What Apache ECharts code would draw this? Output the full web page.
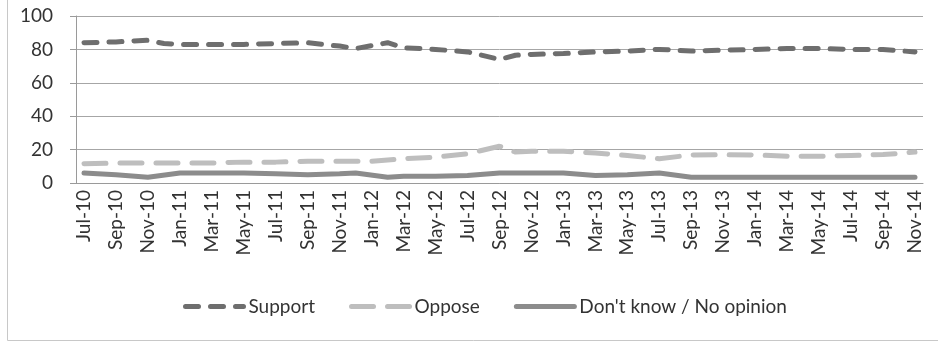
<!DOCTYPE html>
<html>
<head>
<meta charset="utf-8">
<script src="https://cdn.jsdelivr.net/npm/echarts@6/dist/echarts.min.js"></script>
<style>
  html, body { margin: 0; padding: 0; background: #fff; }
  #main { width: 938px; height: 342px; }
</style>
</head>
<body>
<div id="main"></div>
<script>
// monthly categories, Jul-10 .. Nov-14
var months = ['Jul-10','Aug-10','Sep-10','Oct-10','Nov-10','Dec-10',
  'Jan-11','Feb-11','Mar-11','Apr-11','May-11','Jun-11','Jul-11','Aug-11','Sep-11','Oct-11','Nov-11','Dec-11',
  'Jan-12','Feb-12','Mar-12','Apr-12','May-12','Jun-12','Jul-12','Aug-12','Sep-12','Oct-12','Nov-12','Dec-12',
  'Jan-13','Feb-13','Mar-13','Apr-13','May-13','Jun-13','Jul-13','Aug-13','Sep-13','Oct-13','Nov-13','Dec-13',
  'Jan-14','Feb-14','Mar-14','Apr-14','May-14','Jun-14','Jul-14','Aug-14','Sep-14','Oct-14','Nov-14'];

// poll results, null = no survey that month
var support = [84,null,84.5,null,85.5,83.5, 83,null,83,null,83,null,83.5,null,84,null,82,80.5,
  null,84,81,null,80,null,78.5,null,74,76.5,77,null, 77.5,null,78.5,null,79,null,80,null,79,null,79.5,null,
  80,null,80.5,null,80.5,null,80,null,80,null,78.5];
var oppose = [11.5,null,12,null,12,null,12,null,12,null,12.5,null,12.5,null,13,null,13,null,
  13,null,14.5,null,15.5,null,17.5,null,22,18.5,19,null, 19,null,18,null,16.5,null,14.5,null,16.8,null,17,null,
  16.8,null,16,null,16,null,16.5,null,17,null,18.5];
var dontKnow = [6,null,5,null,3.5,null,6,null,6,null,6,null,5.5,null,5,null,5.5,6,
  null,3.5,4,null,4,null,4.5,null,6,null,6,null, 6,null,4.5,null,5,null,6,null,3.5,null,3.5,null,
  3.5,null,3.5,null,3.5,null,3.5,null,3.5,null,3.5];

var seriesNames = ['Support', 'Oppose', "Don't know / No opinion"];

var font = 'Lato, "Open Sans", sans-serif';
var chart = echarts.init(document.getElementById('main'));

var option = {
  animation: false,
  textStyle: { fontFamily: font },
  graphic: [{
    type: 'rect',
    shape: { x: 7.5, y: -5, width: 1000, height: 345.5 },
    style: { fill: 'none', stroke: '#c8c8c8', lineWidth: 1 },
    silent: true
  }],
  grid: { left: 76, right: 15, top: 16, bottom: 159, containLabel: false },
  legend: {
    data: seriesNames,
    top: 292,
    left: 178,
    itemWidth: 58,
    itemHeight: 14,
    itemGap: 34,
    itemStyle: { opacity: 0 },
    lineStyle: { width: 5, cap: 'round' },
    textStyle: { fontSize: 19, color: '#333', fontFamily: font }
  },
  xAxis: {
    type: 'category',
    data: months,
    boundaryGap: true,
    axisLine: { lineStyle: { color: '#9a9a9a' } },
    axisTick: { interval: 1, length: 5, lineStyle: { color: '#9a9a9a' } },
    axisLabel: { interval: 1, rotate: 90, margin: 7, fontSize: 19, color: '#333', fontFamily: font }
  },
  yAxis: {
    type: 'value',
    min: 0, max: 100, interval: 20,
    axisLine: { show: true, lineStyle: { color: '#9a9a9a' } },
    axisTick: { show: true, length: 6, lineStyle: { color: '#9a9a9a' } },
    splitLine: { lineStyle: { color: '#a6a6a6' } },
    axisLabel: { margin: 23, fontSize: 19, color: '#333', fontFamily: font }
  },
  series: [
    {
      name: seriesNames[0], type: 'line', data: support, connectNulls: true,
      symbol: 'none',
      lineStyle: { color: '#6e6e6e', width: 5, type: [13, 12], cap: 'round' },
      itemStyle: { color: '#6e6e6e' }
    },
    {
      name: seriesNames[1], type: 'line', data: oppose, connectNulls: true,
      symbol: 'none',
      lineStyle: { color: '#bebebe', width: 5, type: [22, 14], cap: 'round' },
      itemStyle: { color: '#bebebe' }
    },
    {
      name: seriesNames[2], type: 'line', data: dontKnow, connectNulls: true,
      symbol: 'none',
      lineStyle: { color: '#8c8c8c', width: 5, cap: 'round' },
      itemStyle: { color: '#8c8c8c' }
    }
  ]
};

chart.setOption(option);
</script>
</body>
</html>
